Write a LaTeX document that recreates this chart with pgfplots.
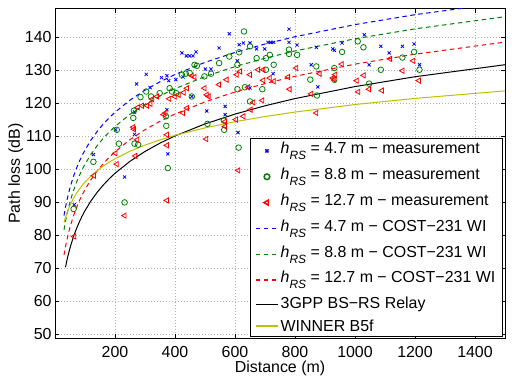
\documentclass[border=0pt]{standalone}
\usepackage{pgfplots}
\pgfplotsset{compat=1.18}
\usepackage{fontspec}
\setmainfont{Liberation Sans}

\definecolor{mblue}{rgb}{0,0,1}
\definecolor{mgreen}{rgb}{0,0.5,0}
\definecolor{mred}{rgb}{1,0,0}
\definecolor{myellow}{rgb}{0.75,0.75,0}

\newcommand{\hrs}{\textit{h}\raisebox{-6bp}{\fontsize{12}{12}\selectfont\textit{RS}}}

\begin{document}
\fontsize{16}{19}\selectfont
\begin{tikzpicture}
\begin{axis}[
  name=ax,
  scale only axis, width=450bp, height=330bp,
  xmin=0, xmax=1500, ymin=48.7, ymax=148.7,
  xtick={200,400,...,1400}, ytick={50,60,...,140},
  tick align=inside, major tick length=4.5bp,
  tick style={black, line width=0.5bp},
  axis line style={line width=0.6bp},
  grid=major,
  major grid style={gray!60, line width=0.4bp, dash pattern=on 1bp off 2bp},
  scaled ticks=false,
  /pgf/number format/assume math mode=true,
  /pgf/number format/1000 sep={},
  tick label style={font=\fontsize{16}{19}\selectfont},
  xticklabel style={inner sep=0pt, anchor=north, yshift=-7bp},
  yticklabel style={inner sep=0pt, anchor=east, xshift=-3.3bp},
  xlabel={Distance (m)}, ylabel={Path loss (dB)},
  xlabel style={at={(axis description cs:0.5,0)}, anchor=base, yshift=-34bp},
  ylabel style={at={(axis description cs:-0.0778,0.5)}, anchor=base},
  legend cell align=left,
  legend image code/.code={\draw[mark repeat=2,mark phase=2,#1] plot coordinates {(0bp,0bp) (11bp,0bp) (22bp,0bp)};},
  every legend image post/.style={line width=1.5bp},
  legend style={at={(1,0)}, anchor=south east, xshift=-3bp, yshift=2.5bp,
    fill=white, font=\fontsize{16}{19}\selectfont,
    nodes={inner sep=2bp, text depth=},
    inner xsep=4.5bp, inner ysep=2bp, row sep=4.2bp},
]

% measured path loss, h_RS = 4.7 m
\addplot[only marks, mark=x, mark size=2.2bp, mblue, line width=0.8bp] coordinates {
 (64,89.3) (128,104.5) (202,112.0) (232,97.7) (265,117.4) (265,110.6) (272,125.9)
 (304,128.8) (317,124.8) (355,127.8) (373,128.4) (379,126.9) (403,127.2) (373,118.1)
 (376,104.7) (423,135.3) (438,134.4) (449,134.4) (460,134.4) (470,135.6) (427,128.0)
 (456,122.1) (501,130.4) (506,117.7) (520,130.4) (547,136.8) (567,119.1) (567,116.6)
 (581,141.1) (608,132.9) (614,137.8) (628,138.3) (650,138.3) (610,111.2) (672,136.5)
 (699,136.5) (710,138.5) (718,138.5) (729,138.5) (780,142.5) (780,138.5) (807,137.7)
 (871,137.0) (926,136.5) (931,136.1) (957,138.3) (1031,140.8) (1086,137.3) (1158,137.3)
 (1197,138.0) (1114,135.3) (1047,131.7) (854,131.7) (876,125.0) (1215,131.7) (650,124.7)
 (727,129.0)
};
\addlegendentry{\hrs{} = 4.7 m − measurement}

% measured path loss, h_RS = 8.8 m
\addplot[only marks, mark=o, mark size=2.8bp, mgreen, line width=0.8bp] coordinates {
 (62,88.0) (128,102.3) (206,112.0) (213,107.8) (232,90.0) (261,115.6) (263,117.8)
 (265,107.8) (277,107.5) (285,121.9) (304,123.6) (320,122.1) (349,123.1) (370,116.1)
 (371,113.2) (376,100.4) (382,124.6) (390,123.6) (404,123.1) (423,128.7) (436,129.0)
 (449,129.2) (465,131.7) (473,131.4) (456,122.1) (498,128.2) (520,129.0) (508,113.8)
 (547,132.2) (564,112.0) (563,114.8) (581,134.2) (608,131.7) (614,135.5) (630,141.8)
 (608,124.3) (633,124.9) (650,120.6) (612,106.6) (650,137.3) (672,133.7) (703,133.7)
 (703,130.2) (691,124.3) (716,134.7) (729,131.7) (780,136.3) (780,135.0) (807,134.7)
 (871,131.2) (851,127.2) (873,122.4) (931,127.2) (931,130.7) (957,135.6) (1009,138.8)
 (1028,137.0) (1047,126.0) (1086,130.2) (1158,133.9) (1197,135.6) (1215,130.2)
};
\addlegendentry{\hrs{} = 8.8 m − measurement}

% measured path loss, h_RS = 12.7 m
\addplot[only marks, mark=triangle, mark size=3bp, mark options={rotate=90}, mred, line width=0.8bp] coordinates {
 (64,79.7) (130,98.1) (202,104.9) (206,101.6) (232,86.0) (261,112.8) (263,112.2)
 (268,104.1) (274,109.0) (276,118.8) (290,119.3) (307,119.3) (318,119.9) (324,121.3)
 (340,122.1) (362,116.6) (368,117.1) (373,110.5) (373,107.3) (373,90.6) (381,121.4)
 (399,122.1) (412,122.6) (429,123.3) (440,124.6) (427,117.1) (440,118.6) (456,128.4)
 (465,128.0) (498,124.6) (506,122.6) (504,109.2) (512,122.1) (547,125.7) (567,114.5)
 (567,113.0) (572,127.2) (606,128.7) (617,129.7) (603,115.1) (628,116.1) (611,99.7)
 (644,124.9) (652,118.1) (677,130.2) (650,128.7) (694,130.2) (694,127.0) (716,127.7)
 (729,126.7) (661,120.3) (691,120.9) (777,128.0) (804,130.7) (782,124.3) (854,122.9)
 (871,117.1) (882,129.0) (926,127.7) (931,127.2) (934,128.7) (956,131.9) (1006,126.9)
 (1029,128.5) (1011,123.5) (1090,123.9) (1117,133.5) (1158,129.9) (1194,132.9)
 (1213,126.9) (1047,124.3)
};
\addlegendentry{\hrs{} = 12.7 m − measurement}

% COST-231 Walfisch-Ikegami model curves
\addplot[color=mblue, line width=1bp, dash pattern=on 4.5bp off 3.5bp] coordinates {
 (30,86.01) (35,88.56) (40,90.76) (45,92.70) (50,94.44) (60,97.45) (70,99.99)
 (80,102.20) (90,104.14) (100,105.88) (120,108.89) (140,111.43) (160,113.64)
 (180,115.58) (200,117.32) (250,121.00) (300,124.01) (350,126.56) (400,128.76)
 (500,132.44) (600,135.45) (700,137.99) (800,140.20) (1000,143.88) (1200,146.89)
 (1500,150.57)
};
\addlegendentry{\hrs{} = 4.7 m − COST−231 WI}

\addplot[color=mgreen, line width=1bp, dash pattern=on 4.5bp off 3.5bp] coordinates {
 (30,81.71) (35,84.26) (40,86.46) (45,88.40) (50,90.14) (60,93.15) (70,95.69)
 (80,97.90) (90,99.84) (100,101.58) (120,104.59) (140,107.13) (160,109.34)
 (180,111.28) (200,113.02) (250,116.70) (300,119.71) (350,122.26) (400,124.46)
 (500,128.14) (600,131.15) (700,133.69) (800,135.90) (1000,139.58) (1200,142.59)
 (1500,146.27)
};
\addlegendentry{\hrs{} = 8.8 m − COST−231 WI}

\addplot[color=mred, line width=1bp, dash pattern=on 4.5bp off 3.5bp] coordinates {
 (30,74.03) (35,76.58) (40,78.78) (45,80.72) (50,82.46) (60,85.47) (70,88.01)
 (80,90.22) (90,92.16) (100,93.90) (120,96.91) (140,99.45) (160,101.66)
 (180,103.60) (200,105.34) (250,109.02) (300,112.03) (350,114.58) (400,116.78)
 (500,120.46) (600,123.47) (700,126.01) (800,128.22) (1000,131.90) (1200,134.91)
 (1500,138.59)
};
\addlegendentry{\hrs{} = 12.7 m − COST−231 WI}

% 3GPP relay link model
\addplot[color=black, line width=1bp] coordinates {
 (35,70.36) (40,72.54) (45,74.46) (50,76.18) (60,79.16) (70,81.68) (80,83.86)
 (90,85.78) (100,87.50) (120,90.48) (140,92.99) (160,95.17) (180,97.10)
 (200,98.82) (250,102.46) (300,105.44) (350,107.96) (400,110.14) (500,113.78)
 (600,116.76) (700,119.28) (800,121.46) (1000,125.10) (1200,128.08) (1500,131.72)
};
\addlegendentry{3GPP BS−RS Relay}

% WINNER B5f model
\addplot[color=myellow, line width=1bp] coordinates {
 (30,83.87) (35,85.45) (40,86.81) (45,88.01) (50,89.09) (60,90.95) (70,92.52)
 (80,93.88) (90,95.08) (100,96.16) (120,98.02) (140,99.59) (160,100.96)
 (180,102.16) (200,103.23) (250,105.51) (300,107.37) (350,108.95) (400,110.31)
 (500,112.59) (600,114.45) (700,116.02) (800,117.38) (1000,119.66) (1200,121.52)
 (1500,123.80)
};
\addlegendentry{WINNER B5f}

\end{axis}
\pgfresetboundingbox
\useasboundingbox ([xshift=-55bp,yshift=-39.3bp]ax.south west) rectangle ([xshift=12bp,yshift=8.7bp]ax.north east);
\end{tikzpicture}
\end{document}
